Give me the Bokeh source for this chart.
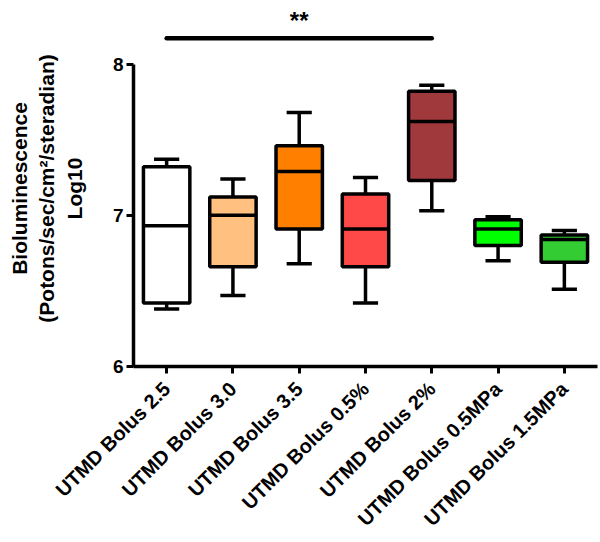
import math
from bokeh.plotting import figure
from bokeh.models import Range1d, FactorRange, ColumnDataSource, FixedTicker
from bokeh.transform import dodge
from bokeh.embed import file_html
from bokeh.resources import INLINE
from bokeh.core.properties import value

groups = ["UTMD Bolus 2.5", "UTMD Bolus 3.0", "UTMD Bolus 3.5", "UTMD Bolus 0.5%",
          "UTMD Bolus 2%", "UTMD Bolus 0.5MPa", "UTMD Bolus 1.5MPa"]
whisker_low = [6.38, 6.47, 6.68, 6.42, 7.03, 6.70, 6.51]
q1 = [6.42, 6.66, 6.91, 6.66, 7.23, 6.80, 6.69]
median = [6.93, 7.00, 7.29, 6.91, 7.62, 6.91, 6.84]
q3 = [7.32, 7.12, 7.46, 7.14, 7.82, 6.97, 6.87]
whisker_high = [7.37, 7.24, 7.68, 7.25, 7.86, 6.99, 6.90]
fills = ["#FFFFFF", "#FFC080", "#FF8000", "#FF4848", "#A0393C", "#00FF00", "#33CC33"]
y_ticks = [6, 7, 8]
sig_from = "UTMD Bolus 2.5"
sig_to = "UTMD Bolus 2%"
sig_mid = "UTMD Bolus 3.5"
sig_y = 8.17
sig_text_y = 8.29
sig_label = "**"

FONT = "Liberation Sans"

src = ColumnDataSource(dict(g=groups, lo=whisker_low, q1=q1, med=median, q3=q3,
                            hi=whisker_high, fill=fills))

p = figure(x_range=FactorRange(factors=groups), y_range=Range1d(6, 8.354),
           width=598, height=540, output_backend="svg", toolbar_location=None,
           min_border_left=133, min_border_right=1, min_border_top=10, min_border_bottom=171)
p.outline_line_color = None
p.xgrid.grid_line_color = None
p.ygrid.grid_line_color = None
p.background_fill_color = "white"
p.border_fill_color = "white"

LW = 3.5
# whisker stems
p.segment(x0="g", x1="g", y0="lo", y1="q1", source=src, line_color="black", line_width=LW)
p.segment(x0="g", x1="g", y0="q3", y1="hi", source=src, line_color="black", line_width=LW)
# caps
p.segment(x0=dodge("g", -0.19, range=p.x_range), x1=dodge("g", 0.19, range=p.x_range),
          y0="hi", y1="hi", source=src, line_color="black", line_width=LW)
p.segment(x0=dodge("g", -0.19, range=p.x_range), x1=dodge("g", 0.19, range=p.x_range),
          y0="lo", y1="lo", source=src, line_color="black", line_width=LW)
# boxes
p.vbar(x="g", width=0.70, top="q3", bottom="q1", source=src, fill_color="fill",
       line_color="black", line_width=LW)
# medians
p.segment(x0=dodge("g", -0.35, range=p.x_range), x1=dodge("g", 0.35, range=p.x_range),
          y0="med", y1="med", source=src, line_color="black", line_width=LW)

# significance bar
p.segment(x0=[sig_from], x1=[sig_to], y0=[sig_y], y1=[sig_y], line_color="black",
          line_width=4.5, line_cap="round")
p.text(x=[sig_mid], y=[sig_text_y], text=[sig_label], text_align="center",
       text_baseline="middle", text_font=value(FONT), text_font_style="bold",
       text_font_size="24px", text_color="black")

# axes
for ax in (p.xaxis[0], p.yaxis[0]):
    ax.axis_line_width = LW
    ax.axis_line_color = "black"
    ax.major_tick_line_width = 3
    ax.major_tick_line_color = "black"
    ax.major_tick_out = 7
    ax.major_tick_in = 0
    ax.minor_tick_line_color = None
    ax.major_label_text_font = FONT
    ax.major_label_text_font_style = "bold"
    ax.major_label_text_color = "black"

p.yaxis.ticker = FixedTicker(ticks=y_ticks)
p.yaxis.bounds = (6, 8)
p.yaxis.major_label_text_font_size = "19px"
p.yaxis.major_label_standoff = 3
p.yaxis.axis_label = "Bioluminescence\n(Potons/sec/cm\u00b2/steradian)\nLog10"
p.yaxis.axis_label_text_font = FONT
p.yaxis.axis_label_text_font_style = "bold"
p.yaxis.axis_label_text_font_size = "21px"
p.yaxis.axis_label_text_color = "black"
p.yaxis.axis_label_standoff = 24
p.yaxis.axis_label_text_align = "center"

p.xaxis.major_label_orientation = math.pi / 4
p.xaxis.major_label_text_font_size = "20px"
p.xaxis.major_label_standoff = 12

open("out.html", "w").write(file_html(p, INLINE))
